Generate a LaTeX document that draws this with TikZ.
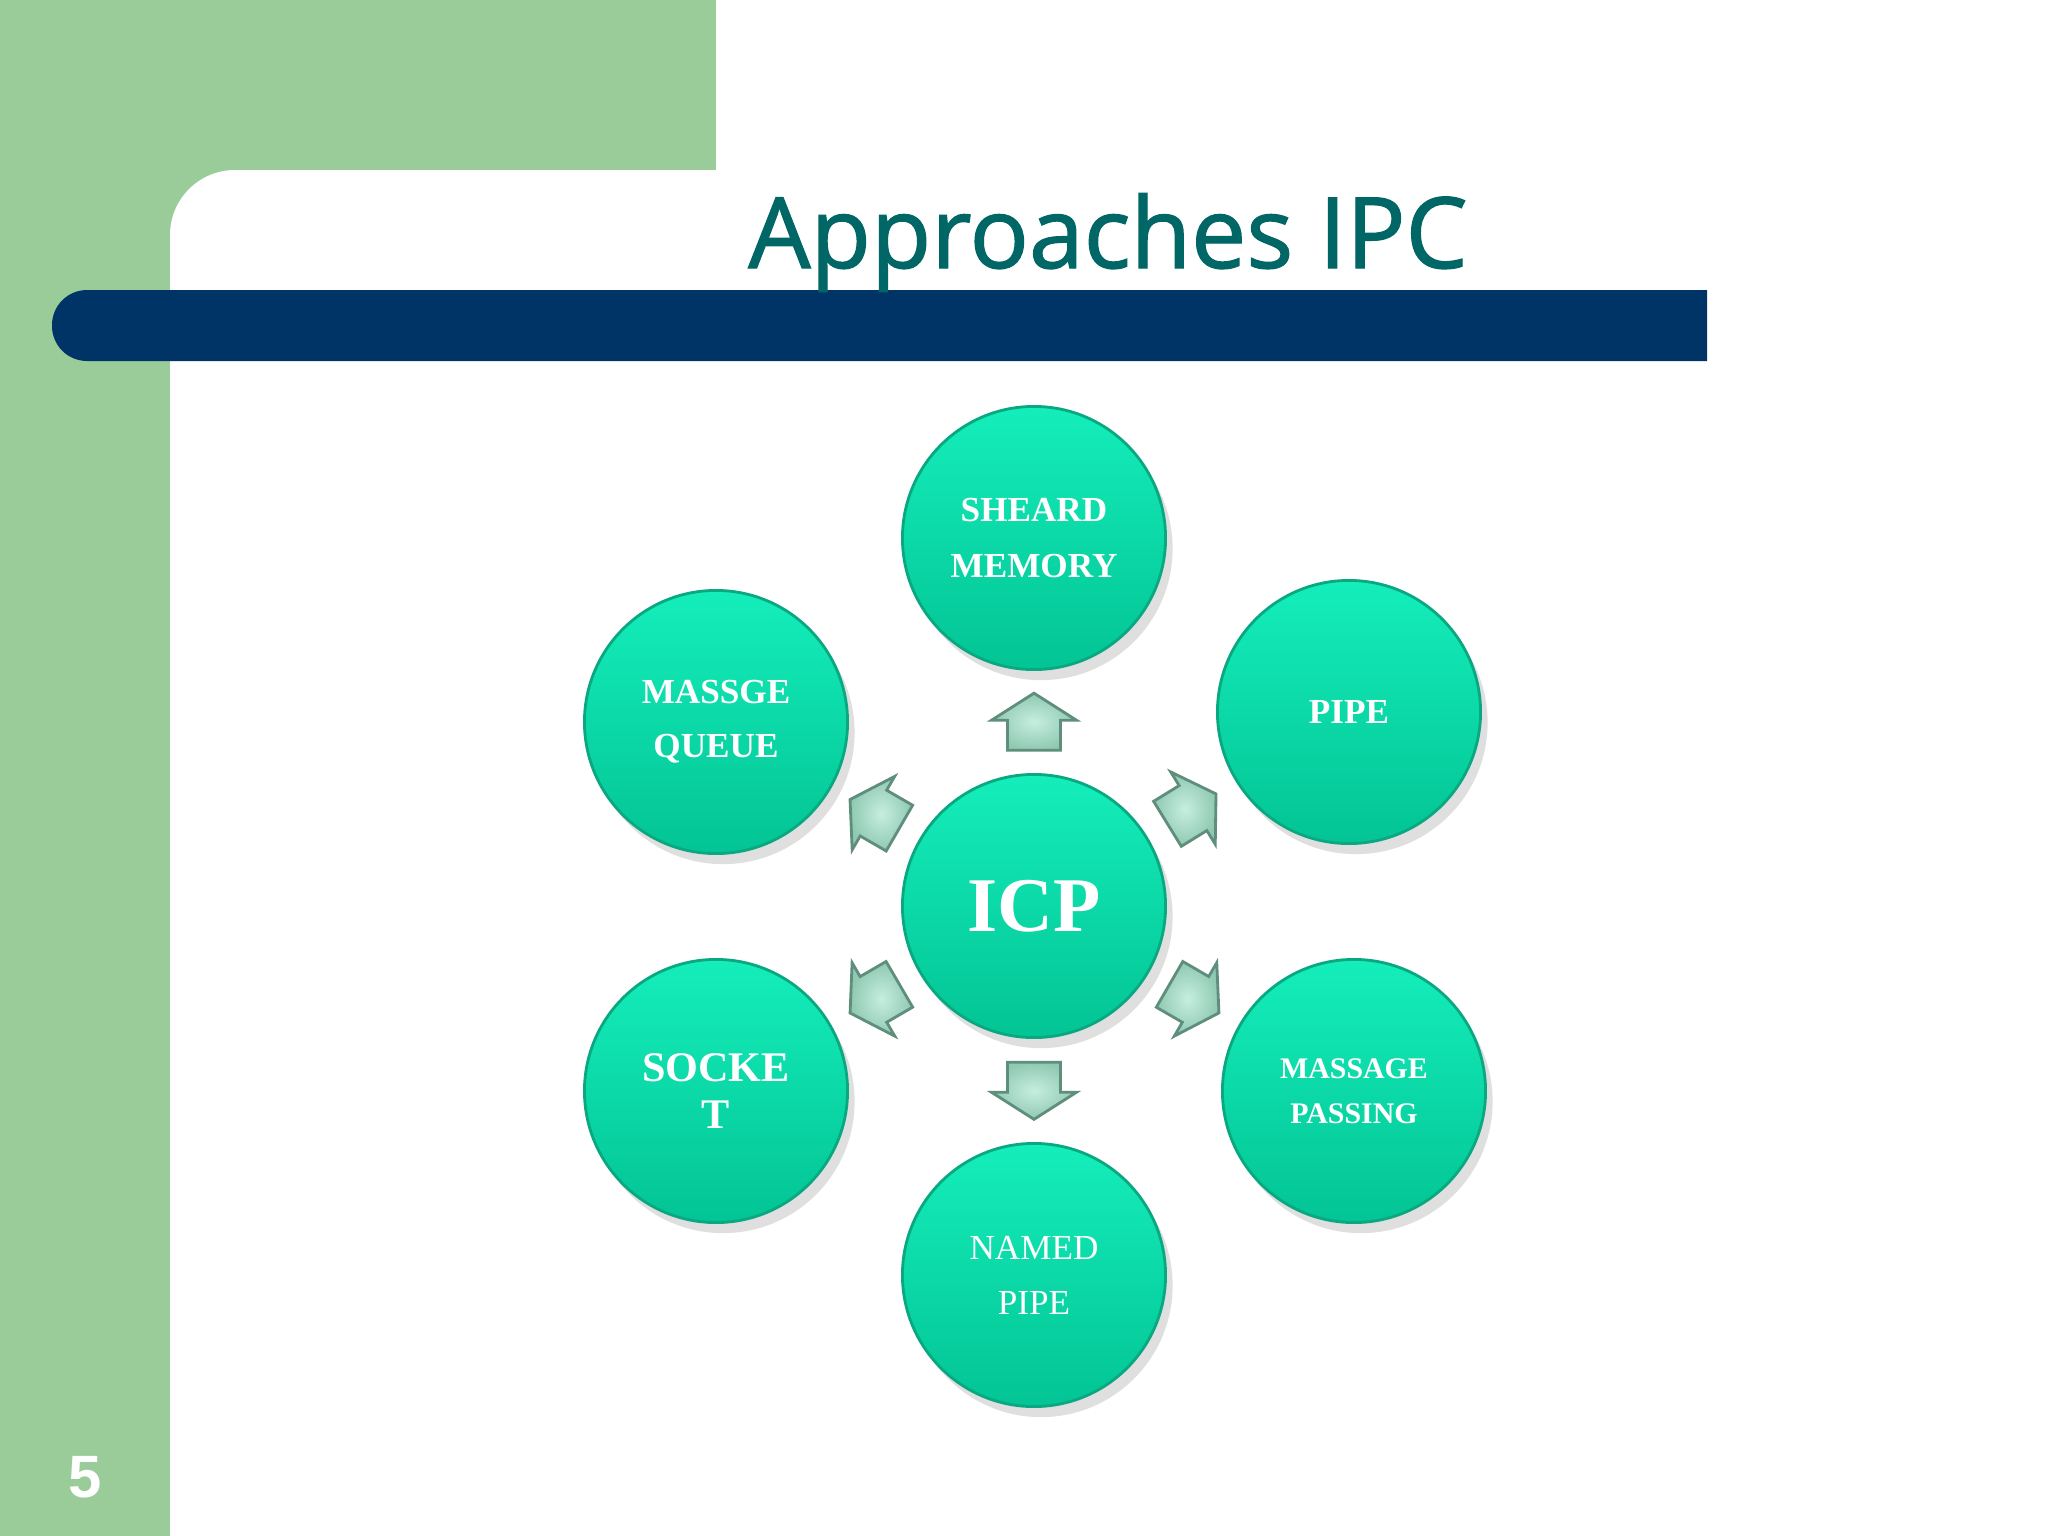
\documentclass[tikz,border=0pt]{standalone}
\usepackage{fontspec}
\setmainfont{Liberation Serif}
\newfontfamily\titlefont[FakeBold=1.3]{Open Sans}
\newfontfamily\numfont{Liberation Sans}
\usetikzlibrary{calc,shapes.arrows,shadows}
\definecolor{sidegreen}{HTML}{99CC99}
\definecolor{barnavy}{HTML}{003366}
\definecolor{titleteal}{HTML}{006666}
\definecolor{ballTop}{HTML}{14EEBB}
\definecolor{ballBot}{HTML}{03C494}
\definecolor{ballRim}{HTML}{0AA880}
\definecolor{arrIn}{HTML}{C6EEDF}
\definecolor{arrOut}{HTML}{8FC9B2}
\definecolor{arrRim}{HTML}{5F8E7D}
\tikzset{
    ball/.style={circle, minimum size=2.63cm, inner sep=0pt, top color=ballTop, bottom color=ballBot,
        draw=ballRim, line width=0.8pt, text=white, align=center,
        drop shadow={shadow xshift=2pt, shadow yshift=-3pt, opacity=0.25}},
    flowarrow/.style={single arrow, draw=arrRim, inner color=arrIn, outer color=arrOut,
        line width=0.8pt, inner xsep=0pt, inner ysep=0.25cm, single arrow head extend=0.16cm,
        single arrow tip angle=115, minimum height=0.57cm}
}
\begin{document}
\begin{tikzpicture}[x=0.01cm,y=-0.01cm]
    \useasboundingbox (0,0) rectangle (2048,1536);
    \fill[white] (0,0) rectangle (2048,1536);
    \fill[sidegreen] (0,0) rectangle (716,240);
    \fill[sidegreen] (0,0) rectangle (170,1536);
    \fill[white, rounded corners=0.65cm] (170,1600) -- (170,170) -- (800,170) -- (800,1600) -- cycle;
    \fill[barnavy, rounded corners=0.35cm] (1707,290) -- (52,290) -- (52,361) -- (1707,361);
    \node[font=\titlefont\fontsize{28}{34}\selectfont, text=titleteal, anchor=base] (title) at (1108,268) {Approaches IPC};
    \node[font=\numfont\bfseries\fontsize{17}{20}\selectfont, text=white] (pgnum) at (85,1477) {5};
    % circles
    \node[ball, font=\bfseries\fontsize{22}{26}\selectfont] (icp) at (1034,906) {ICP};
    \node[ball, font=\bfseries\fontsize{10}{16}\selectfont] (shm) at (1034,538) {SHEARD\\MEMORY};
    \node[ball, font=\bfseries\fontsize{10}{16}\selectfont] (pipe) at (1349,712) {PIPE};
    \node[ball, font=\bfseries\fontsize{8.5}{12.8}\selectfont] (mpass) at (1354,1091) {MASSAGE\\PASSING};
    \node[ball, font=\fontsize{10}{15.6}\selectfont] (npipe) at (1034,1275) {NAMED\\PIPE};
    \node[ball, font=\bfseries\fontsize{12}{13.6}\selectfont] (sock) at (716,1091) {SOCKE\\T};
    \node[ball, font=\bfseries\fontsize{10}{15.3}\selectfont] (mqueue) at (716,722) {MASSGE\\QUEUE};
    % arrows
    \foreach \tgt in {shm,pipe,mpass,npipe,sock,mqueue}
        \path let \p1=($(\tgt)-(icp)$), \n1={atan2(\y1,\x1)} in
            node[flowarrow, rotate=\n1] (arr-\tgt) at ($(icp)!0.478!(\tgt)$) {};
\end{tikzpicture}
\end{document}
